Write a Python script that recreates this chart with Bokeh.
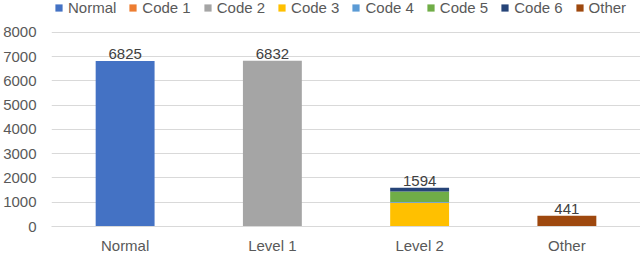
from bokeh.plotting import figure
from bokeh.models import Legend, LegendItem, ColumnDataSource, FactorRange
from bokeh.core.properties import value
from bokeh.embed import file_html
from bokeh.resources import INLINE

categories = ["Normal", "Level 1", "Level 2", "Other"]
series_names = ["Normal", "Code 1", "Code 2", "Code 3", "Code 4", "Code 5", "Code 6", "Other"]
normal = [6825, 0, 0, 0]
code1 = [0, 0, 0, 0]
code2 = [0, 6832, 0, 0]
code3 = [0, 0, 980, 0]
code4 = [0, 0, 25, 0]
code5 = [0, 0, 435, 0]
code6 = [0, 0, 154, 0]
other = [0, 0, 0, 441]
totals = [6825, 6832, 1594, 441]
y_ticks = [0, 1000, 2000, 3000, 4000, 5000, 6000, 7000, 8000]

colors = ["#4472C4", "#ED7D31", "#A5A5A5", "#FFC000", "#5B9BD5", "#70AD47", "#264478", "#9E480E"]
keys = ["s%d" % i for i in range(len(series_names))]

data = {"cat": categories, "total": totals, "label": [str(t) for t in totals]}
for k, v in zip(keys, [normal, code1, code2, code3, code4, code5, code6, other]):
    data[k] = v
src = ColumnDataSource(data)

FONT = "Liberation Sans"

# frame spans the full top so the legend (drawn inside the frame) is visible;
# upper range chosen so the 8000 gridline sits where the reference's top gridline is
p = figure(x_range=FactorRange(*categories), y_range=(0, 9313), width=640, height=256,
           output_backend="svg", toolbar_location=None,
           min_border_left=50, min_border_right=0, min_border_top=0, min_border_bottom=0)
p.outline_line_color = None

rs = p.vbar_stack(keys, x="cat", width=0.4, color=colors, source=src, line_color=None)

p.text(x="cat", y="total", text="label", source=src, text_align="center", text_baseline="bottom",
       y_offset=-2, text_font=value(FONT), text_font_size="15px", text_color="#404040")

legend = Legend(items=[LegendItem(label=n, renderers=[r]) for n, r in zip(series_names, rs)],
                orientation="horizontal", location=(3, 210),
                label_text_font=FONT, label_text_font_size="15px", label_text_color="#595959",
                glyph_width=9, glyph_height=9, spacing=12, label_standoff=5,
                padding=0, margin=0, border_line_color=None, background_fill_alpha=0,
                label_height=16)
p.add_layout(legend)

p.yaxis.ticker = y_ticks
p.yaxis.axis_line_color = None
p.yaxis.major_tick_line_color = None
p.yaxis.minor_tick_line_color = None
p.yaxis.major_label_text_font = FONT
p.yaxis.major_label_text_font_size = "15px"
p.yaxis.major_label_text_color = "#595959"
p.yaxis.major_label_standoff = 9

p.xaxis.axis_line_color = "#D9D9D9"
p.xaxis.major_tick_line_color = None
p.xaxis.minor_tick_line_color = None
p.xaxis.major_label_text_font = FONT
p.xaxis.major_label_text_font_size = "15px"
p.xaxis.major_label_text_color = "#595959"
p.xaxis.major_label_standoff = 4

p.xgrid.grid_line_color = None
p.ygrid.grid_line_color = "#D9D9D9"
p.ygrid.ticker = y_ticks

open("out.html", "w").write(file_html(p, INLINE))
